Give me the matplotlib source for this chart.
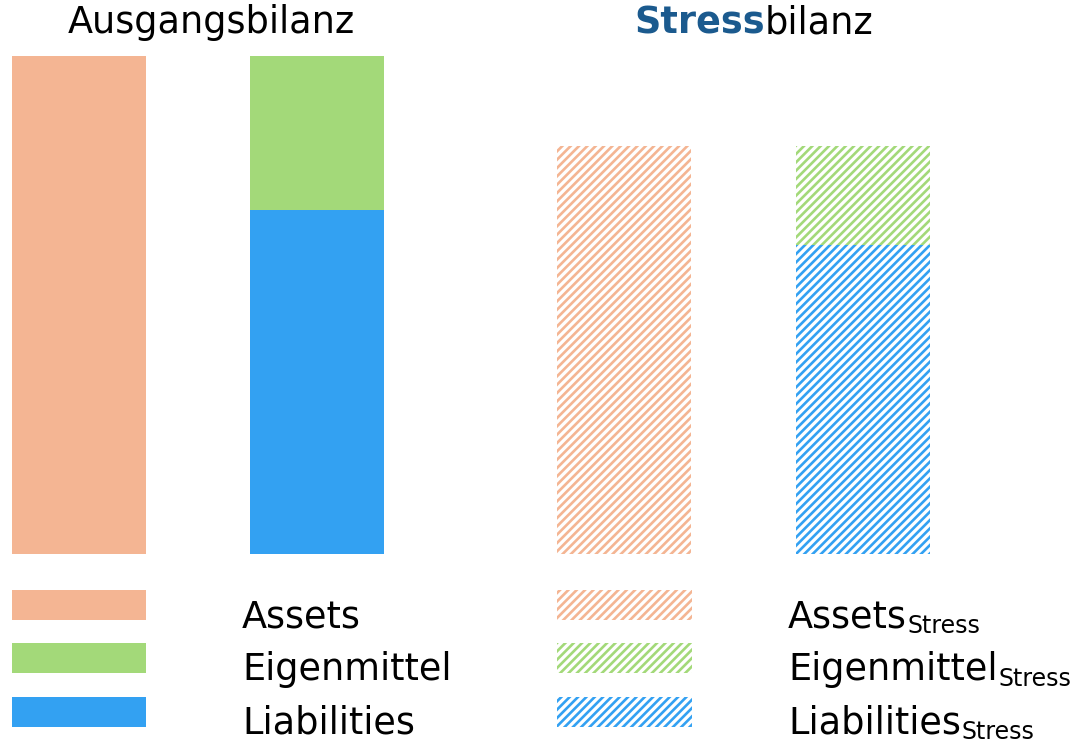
import matplotlib
matplotlib.use("Agg")
from matplotlib import pyplot as plt
from matplotlib.patches import Rectangle

# balance sheet values (Assets = 100)
categories = ["Assets", "Eigenmittel", "Liabilities"]
base_assets = [100]
base_liabilities = [69]
base_equity = [31]
stress_assets = [82]
stress_liabilities = [62]
stress_equity = [20]

c_assets = "#F4B593"
c_equity = "#A3D979"
c_liab = "#33A1F2"
c_title = "#1B5A8E"

W, H = 1074, 744
BASE_PX = 554          # pixel row of the bar bottoms
PX_PER_UNIT = 4.98

plt.rcParams["hatch.linewidth"] = 1.9
plt.rcParams["font.family"] = "DejaVu Sans"

fig = plt.figure(figsize=(W / 100, H / 100), dpi=100)
ax = fig.add_axes([0, 0, 1, 1])
ax.set_xlim(0, W)
ax.set_ylim(-(H - BASE_PX) / PX_PER_UNIT, BASE_PX / PX_PER_UNIT)
ax.axis("off")

bw = 134
x_pos = [79, 317, 624, 863]
HATCH = "////"

# Ausgangsbilanz
ax.bar(x_pos[0], base_assets, width=bw, color=c_assets, linewidth=0)
ax.bar(x_pos[1], base_liabilities, width=bw, color=c_liab, linewidth=0)
ax.bar(x_pos[1], base_equity, bottom=base_liabilities, width=bw,
       color=c_equity, linewidth=0)

# Stressbilanz (hatched)
ax.bar(x_pos[2], stress_assets, width=bw, facecolor="white",
       edgecolor=c_assets, hatch=HATCH, linewidth=0)
ax.bar(x_pos[3], stress_liabilities, width=bw, facecolor="white",
       edgecolor=c_liab, hatch=HATCH, linewidth=0)
ax.bar(x_pos[3], stress_equity, bottom=stress_liabilities, width=bw,
       facecolor="white", edgecolor=c_equity, hatch=HATCH, linewidth=0)

# overlay in pixel coordinates for titles and legend
ov = fig.add_axes([0, 0, 1, 1])
ov.set_xlim(0, W)
ov.set_ylim(H, 0)
ov.axis("off")

ov.text(211, 33, "Ausgangsbilanz", fontsize=26.4, ha="center", va="baseline")
ov.text(765, 33, "Stress", fontsize=26.4, weight="bold",
        color=c_title, ha="right", va="baseline")
ov.text(765, 33, "bilanz", fontsize=26.4, ha="left", va="baseline")

colors = [c_assets, c_equity, c_liab]
rows = [590, 643, 697]
baselines = [627, 680, 733]
for cat, col, y, yb in zip(categories, colors, rows, baselines):
    ov.add_patch(Rectangle((12, y), 134, 30, facecolor=col, linewidth=0))
    ov.add_patch(Rectangle((557, y), 135, 30, facecolor="white",
                           edgecolor=col, hatch=HATCH, linewidth=0))
    ov.text(242, yb, cat, fontsize=26.4, va="baseline")

fig.canvas.draw()
inv = ov.transData.inverted()
for cat, yb in zip(categories, baselines):
    t = ov.text(788, yb, cat, fontsize=26.4, va="baseline")
    bb = t.get_window_extent()
    x_end = inv.transform((bb.x1, 0))[0]
    ov.text(x_end + 1, yb + 6, "Stress", fontsize=17, va="baseline")

fig.savefig("out.png", dpi=100)
